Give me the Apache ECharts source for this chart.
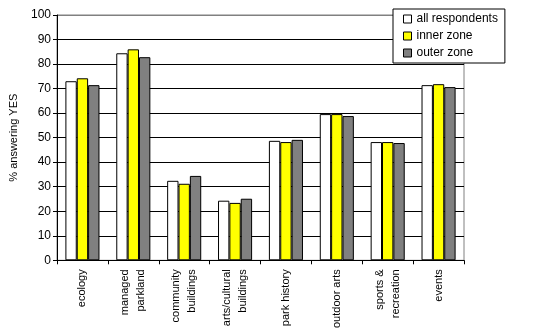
<!DOCTYPE html>
<html><head><meta charset="utf-8">
<script src="https://cdn.jsdelivr.net/npm/echarts@6/dist/echarts.min.js"></script>
<style>html,body{margin:0;padding:0;background:#fff}#c{width:538px;height:331px}</style>
</head><body><div id="c"></div>
<script>
var categories = ['ecology', 'managed\nparkland', 'community\nbuildings', 'arts/cultural\nbuildings', 'park history', 'outdoor arts', 'sports &\nrecreation', 'events'];
var allRespondents = [73.0, 84.4, 32.4, 24.3, 48.7, 59.6, 48.2, 71.4];
var innerZone = [74.2, 86.0, 31.2, 23.4, 48.2, 59.6, 48.2, 71.8];
var outerZone = [71.4, 82.8, 34.4, 25.1, 49.1, 58.8, 47.8, 70.6];
var seriesNames = ['all respondents', 'inner zone', 'outer zone'];
var yAxisName = '% answering YES';

var font = 'Liberation Sans, Arial, sans-serif';
var chart = echarts.init(document.getElementById('c'), null, {renderer: 'canvas'});
function bar(name, data, color) {
  return {
    name: name, type: 'bar', data: data, barGap: '0%', barCategoryGap: '33%',
    itemStyle: {color: color, borderColor: '#000', borderWidth: 1},
    animation: false
  };
}
var splitColors = ['#000', '#000', '#000', '#000', '#000', '#000', '#000', '#000', '#000', '#000', '#808080'];
chart.setOption({
  animation: false,
  textStyle: {fontFamily: font},
  grid: {left: 56, right: 74, top: 15, bottom: 70, show: true, borderColor: '#808080', borderWidth: 1, containLabel: false},
  legend: {
    orient: 'vertical', left: 393, top: 9,
    itemWidth: 8, itemHeight: 8, itemGap: 5,
    padding: [4, 7, 4, 10],
    backgroundColor: '#fff', borderColor: '#000', borderWidth: 1,
    textStyle: {fontFamily: font, fontSize: 12, color: '#000'},
    data: seriesNames.map(function (n) { return {name: n, icon: 'rect', itemStyle: {borderColor: '#000', borderWidth: 1}}; })
  },
  xAxis: {
    type: 'category', data: categories,
    axisLine: {lineStyle: {color: '#000', width: 1}},
    axisTick: {show: true, length: 4, lineStyle: {color: '#000'}, alignWithLabel: false},
    axisLabel: {rotate: 90, fontSize: 11, color: '#000', fontFamily: font, margin: 9, lineHeight: 16, interval: 0}
  },
  yAxis: {
    type: 'value', min: 0, max: 100, interval: 10,
    name: yAxisName, nameLocation: 'middle', nameGap: 38, nameRotate: 90,
    nameTextStyle: {fontSize: 11, color: '#000', fontFamily: font},
    axisLine: {show: true, lineStyle: {color: '#000', width: 1}},
    axisTick: {show: true, length: 4, lineStyle: {color: '#000'}},
    axisLabel: {fontSize: 12, color: '#000', fontFamily: font, margin: 6},
    splitLine: {show: true, lineStyle: {color: splitColors, width: 1}}
  },
  series: [
    bar(seriesNames[0], allRespondents, '#ffffff'),
    bar(seriesNames[1], innerZone, '#ffff00'),
    bar(seriesNames[2], outerZone, '#808080')
  ]
});
</script></body></html>
